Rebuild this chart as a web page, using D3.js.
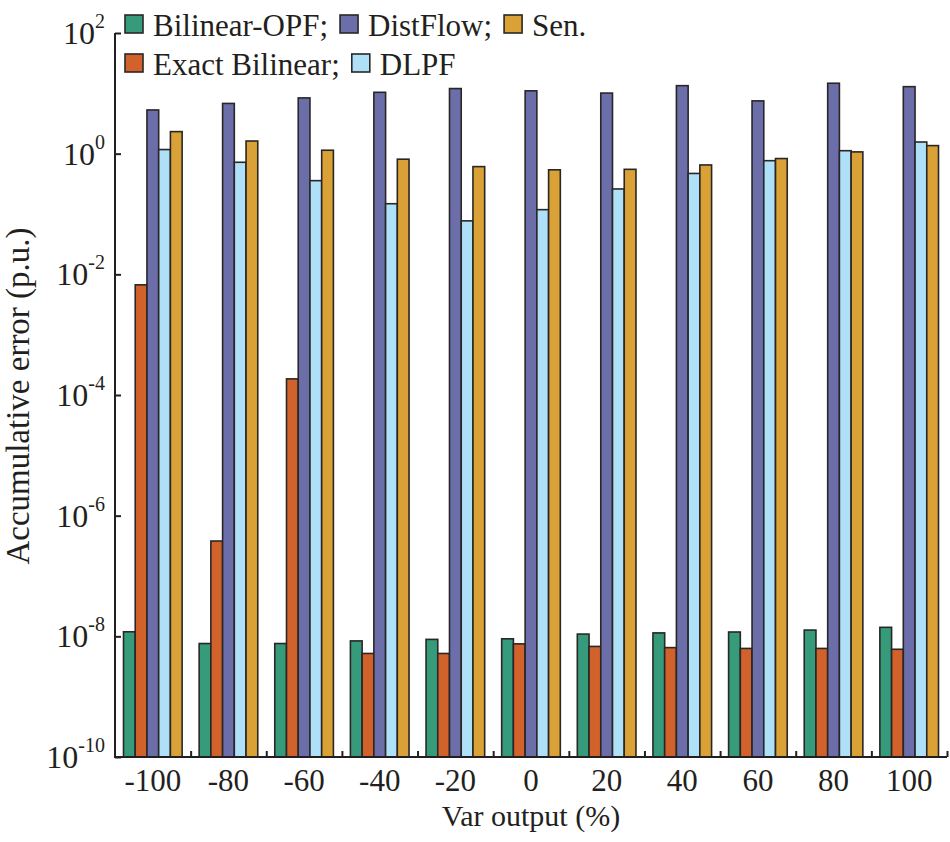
<!DOCTYPE html>
<html>
<head>
<meta charset="utf-8">
<script src="https://cdn.jsdelivr.net/npm/d3@7"></script>
<style>
  html, body { margin: 0; padding: 0; background: #fff; }
  svg { display: block; }
</style>
</head>
<body>
<svg id="chart" width="950" height="842" font-family="'Liberation Serif', 'Times New Roman', Times, serif"></svg>
<script>
// ---- data ----
const categories = ["-100", "-80", "-60", "-40", "-20", "0", "20", "40", "60", "80", "100"];
const seriesNames = ["Bilinear-OPF", "Exact Bilinear", "DistFlow", "DLPF", "Sen."];
const seriesColors = ["#359b7b", "#d2622c", "#6b6ea9", "#aee0f7", "#d9a136"];
const bilinearOPF = [1.19e-8, 7.6e-9, 7.6e-9, 8.4e-9, 8.9e-9, 9.1e-9, 1.09e-8, 1.14e-8, 1.18e-8, 1.27e-8, 1.41e-8];
const exactBilinear = [6.7e-3, 3.8e-7, 1.85e-4, 5.2e-9, 5.2e-9, 7.5e-9, 6.8e-9, 6.5e-9, 6.3e-9, 6.3e-9, 6.1e-9];
const distFlow = [5.3, 6.8, 8.4, 10.4, 12.0, 11.0, 10.1, 13.4, 7.5, 14.7, 12.9];
const dlpf = [1.17, 0.72, 0.357, 0.148, 0.077, 0.118, 0.26, 0.47, 0.765, 1.12, 1.56];
const sen = [2.32, 1.62, 1.14, 0.81, 0.61, 0.54, 0.55, 0.65, 0.83, 1.07, 1.36];
const yTickExps = [2, 0, -2, -4, -6, -8, -10];
const legendRows = [["Bilinear-OPF;", "DistFlow;", "Sen."], ["Exact Bilinear;", "DLPF"]];
const legendColorIdx = [[0, 2, 4], [1, 3]];

const seriesValues = [bilinearOPF, exactBilinear, distFlow, dlpf, sen];

// ---- layout ----
const mLeft = 115, mRight = 947, mTop = 33, mBottom = 757;
const svg = d3.select("#chart");
const ink = "#231f20";
const FONT = "'Liberation Serif', 'Times New Roman', Times, serif";

const x0 = d3.scaleBand().domain(categories).range([mLeft, mRight]).padding(0);
const innerPad = 8.5;
const x1 = d3.scaleBand().domain(seriesNames).range([innerPad, x0.bandwidth() - innerPad]).padding(0);
const y = d3.scaleLog().domain([1e-10, 1e2]).range([mBottom, mTop]);

// ---- bars ----
const rows = categories.map((c, i) => ({ cat: c, vals: seriesNames.map((s, j) => ({ s, j, v: seriesValues[j][i] })) }));
const g = svg.append("g");
const grp = g.selectAll("g.grp").data(rows).join("g")
  .attr("class", "grp")
  .attr("transform", d => `translate(${x0(d.cat)},0)`);
grp.selectAll("rect").data(d => d.vals).join("rect")
  .attr("x", d => x1(d.s))
  .attr("y", d => y(d.v))
  .attr("width", x1.bandwidth())
  .attr("height", d => y(1e-10) - y(d.v))
  .attr("fill", d => seriesColors[d.j])
  .attr("stroke", "#2a2626")
  .attr("stroke-width", 1.6);

// ---- axes ----
const yAxis = d3.axisLeft(y).tickValues(yTickExps.map(e => Math.pow(10, e))).tickSize(-6).tickFormat("");
const yg = svg.append("g").attr("transform", `translate(${mLeft},0)`).call(yAxis);
yg.select(".domain").attr("stroke", ink).attr("stroke-width", 2).attr("d", `M0,${mTop}V${mBottom}`);
yg.selectAll(".tick line").attr("stroke", ink).attr("stroke-width", 2);

function txt(sel) {
  return sel.attr("font-family", FONT).attr("fill", ink);
}

// y tick labels: 10^e
yTickExps.forEach(e => {
  const t = txt(svg.append("text"))
    .attr("x", 105)
    .attr("y", y(Math.pow(10, e)) + 11)
    .attr("text-anchor", "end")
    .attr("font-size", 32);
  t.append("tspan").text("10");
  t.append("tspan").attr("dy", -16).attr("font-size", 20).text(e < 0 ? "-" + (-e) : String(e));
});

// x axis: boundary ticks
const boundaries = categories.map(c => x0(c)).slice(1).concat([mRight]);
const xAxisScale = d3.scaleLinear().domain([mLeft, mRight]).range([mLeft, mRight]);
const xg = svg.append("g").attr("transform", `translate(0,${mBottom})`)
  .call(d3.axisBottom(xAxisScale).tickValues(boundaries).tickSize(-6).tickFormat(""));
xg.select(".domain").attr("stroke", ink).attr("stroke-width", 2).attr("d", `M${mLeft - 1},0H${mRight}`);
xg.selectAll(".tick line").attr("stroke", ink).attr("stroke-width", 2);

// x category labels
txt(svg.selectAll("text.xcat").data(categories).join("text"))
  .attr("class", "xcat")
  .attr("x", d => x0(d) + x0.bandwidth() / 2)
  .attr("y", mBottom + 34)
  .attr("text-anchor", "middle")
  .attr("font-size", 31)
  .text(d => d);

// axis titles
txt(svg.append("text"))
  .attr("x", (mLeft + mRight) / 2)
  .attr("y", 826)
  .attr("text-anchor", "middle")
  .attr("font-size", 30)
  .text("Var output (%)");
txt(svg.append("text"))
  .attr("transform", `translate(29,396) rotate(-90)`)
  .attr("text-anchor", "middle")
  .attr("font-size", 33)
  .text("Accumulative error (p.u.)");

// ---- legend ----
const legendRowY = [15, 54];
legendRows.forEach((row, r) => {
  let cx = 125;
  row.forEach((label, k) => {
    const ci = legendColorIdx[r][k];
    svg.append("rect")
      .attr("x", cx).attr("y", legendRowY[r])
      .attr("width", 18).attr("height", 18)
      .attr("fill", seriesColors[ci])
      .attr("stroke", "#2a2626").attr("stroke-width", 1.6);
    const t = txt(svg.append("text"))
      .attr("x", cx + 28).attr("y", legendRowY[r] + 21)
      .attr("font-size", 31)
      .text(label);
    cx = cx + 28 + t.node().getComputedTextLength() + 12;
  });
});
</script>
</body>
</html>
